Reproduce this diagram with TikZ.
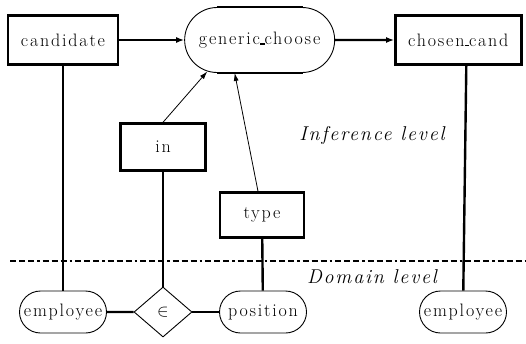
\documentclass[tikz,border=0pt]{standalone}
\usepackage{fontspec}
\setmainfont{Latin Modern Roman}
\usetikzlibrary{positioning, arrows.meta, shapes.geometric, shapes.misc}
\newcommand{\uscore}{\rule[-0.4pt]{4.5pt}{1.8pt}}

\begin{document}
\begin{tikzpicture}[
  x=1pt, y=1pt,
  lbl/.style={font=\fontsize{18}{20}\selectfont\addfontfeatures{LetterSpace=10}},
  box/.style={rectangle, draw, line width=2.4pt, inner sep=0pt, lbl},
  term/.style={rounded rectangle, draw, line width=0.9pt, inner sep=0pt,
               minimum width=87pt, minimum height=42pt, lbl},
  rel/.style={diamond, draw, line width=0.9pt, inner sep=0pt, aspect=1.16,
              minimum width=58pt, minimum height=50pt, lbl},
  link/.style={line width=2.4pt},
  arrow/.style={-{Latex[length=8pt, width=6pt]}, line width=2.4pt},
  thinarrow/.style={-{Latex[length=8pt, width=5pt]}, line width=0.8pt},
  level/.style={font=\fontsize{20}{22}\selectfont\itshape\addfontfeatures{LetterSpace=9}}
]
\useasboundingbox (0,0) rectangle (526,343);
% inference level
\node[box, minimum width=110pt, minimum height=49pt] (candidate) at (63,303) {candidate};
\node[term, minimum width=150pt, minimum height=65pt, right=65pt of candidate] (generic) {generic\uscore choose};
\node[box, minimum width=126pt, minimum height=49pt, right=59pt of generic] (chosen) {chosen\uscore cand};
\node[box, minimum width=85pt, minimum height=47pt] (in) at (163,196) {in};
\node[box, minimum width=84pt, minimum height=45pt] (type) at (262,128) {type};
\node[level] (inflevel) at (372,208) {Inference level};
% domain level
\coordinate (sepL) at (10,82);
\coordinate (sepR) at (526,82);
\draw[line width=2pt, dash pattern=on 6pt off 3pt on 6pt off 3pt on 6pt off 3pt on 2.5pt off 3pt] (sepL) -- (sepR);
\node[level] (domlevel) at (372,66) {Domain level};
\node[term] (emp) at (63,31) {employee};
\node[rel] (elem) at (163,31) {$\in$};
\node[term] (position) at (263,31) {position};
\node[term] (emp2) at (463,31) {employee};
% thick straight sides of generic_choose
\draw[line width=2.4pt] ([xshift=-43pt]generic.north) -- ([xshift=43pt]generic.north);
\draw[line width=2.4pt] ([xshift=-43pt]generic.south) -- ([xshift=43pt]generic.south);
% connectors
\draw[arrow] (candidate) -- (generic);
\draw[arrow] (generic) -- (chosen);
\draw[thinarrow] (in.north) -- (generic.211);
\draw[thinarrow] ([xshift=-4pt]type.north) -- ([xshift=-25pt]generic.south);
\draw[link] (candidate) -- (emp);
\draw[link] (in) -- (elem);
\draw[link] (type) -- (position);
\draw[link] ([xshift=8pt]chosen.south) -- (emp2);
\draw[link] (emp) -- (elem);
\draw[link] (elem) -- (position);
\end{tikzpicture}
\end{document}
